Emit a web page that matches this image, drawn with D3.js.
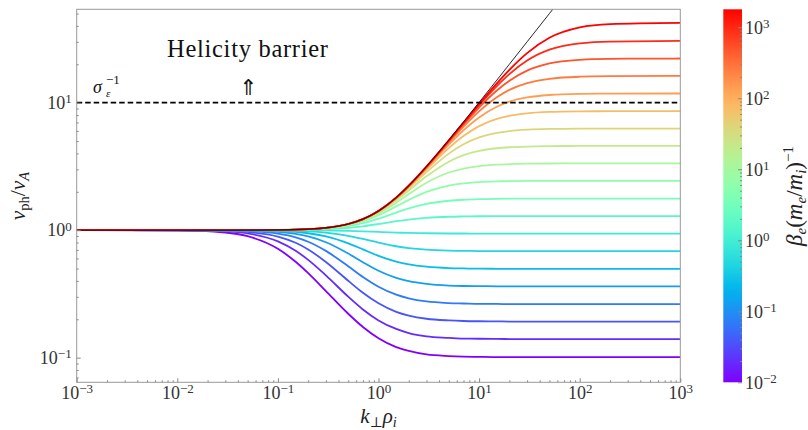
<!DOCTYPE html>
<html>
<head>
<meta charset="utf-8">
<script src="https://cdn.jsdelivr.net/npm/d3@7"></script>
<style>
  body { margin: 0; background: #fff; }
  text { font-family: "Liberation Serif", "DejaVu Serif", serif; }
  text.arrow { font-family: "DejaVu Sans", sans-serif; }
</style>
</head>
<body>
<svg width="808" height="430"></svg>
<script>
const kSamples = [0.001, 0.01, 0.03, 0.05, 0.1, 0.15, 0.2, 0.3, 0.5, 0.7, 1, 1.5, 2, 3, 5, 7, 10, 15, 20, 30, 50, 100, 200, 1000];

// beta_e (m_e/m_i)^-1 for each curve (colour)
const betaValues = [0.01, 0.0196, 0.0369, 0.0692, 0.131, 0.247, 0.468, 0.884, 1.66, 3.13, 5.95, 11.2, 21.0, 39.3, 73.6, 139, 262, 493, 930, 1789];
const betaRange = [0.01, 1789];

// v_ph / v_A for each curve at kSamples
const v00 = [1, 0.995, 0.959, 0.897, 0.714, 0.565, 0.460, 0.333, 0.221, 0.174, 0.142, 0.121, 0.113, 0.106, 0.103, 0.102, 0.1015, 0.101, 0.101, 0.101, 0.101, 0.101, 0.101, 0.101];
const v01 = [1, 0.998, 0.978, 0.943, 0.818, 0.690, 0.585, 0.442, 0.301, 0.239, 0.196, 0.168, 0.156, 0.147, 0.143, 0.141, 0.1407, 0.1403, 0.140, 0.140, 0.140, 0.140, 0.140, 0.140];
const v02 = [1, 0.999, 0.989, 0.969, 0.891, 0.797, 0.706, 0.563, 0.401, 0.323, 0.267, 0.229, 0.214, 0.202, 0.196, 0.194, 0.193, 0.1925, 0.192, 0.192, 0.192, 0.192, 0.192, 0.192];
const v03 = [1, 0.999, 0.994, 0.984, 0.939, 0.879, 0.812, 0.688, 0.521, 0.429, 0.360, 0.312, 0.292, 0.276, 0.268, 0.266, 0.264, 0.264, 0.263, 0.263, 0.263, 0.263, 0.263, 0.263];
const v04 = [1, 1, 0.997, 0.992, 0.969, 0.934, 0.893, 0.804, 0.656, 0.561, 0.481, 0.423, 0.398, 0.379, 0.368, 0.365, 0.364, 0.363, 0.362, 0.362, 0.362, 0.362, 0.362, 0.362];
const v05 = [1, 1, 0.999, 0.996, 0.985, 0.968, 0.946, 0.894, 0.788, 0.707, 0.629, 0.567, 0.539, 0.517, 0.504, 0.501, 0.499, 0.498, 0.4975, 0.497, 0.497, 0.497, 0.497, 0.497];
const v06 = [1, 1, 0.999, 0.999, 0.994, 0.988, 0.979, 0.956, 0.903, 0.853, 0.799, 0.748, 0.724, 0.703, 0.691, 0.688, 0.686, 0.685, 0.6845, 0.684, 0.684, 0.684, 0.684, 0.684];
const v07 = [1, 1, 1, 1, 0.999, 0.999, 0.998, 0.995, 0.987, 0.979, 0.969, 0.958, 0.951, 0.946, 0.942, 0.9415, 0.941, 0.940, 0.940, 0.940, 0.940, 0.940, 0.940, 0.940];
const v08 = [1, 1, 1, 1, 1.002, 1.004, 1.008, 1.017, 1.043, 1.073, 1.118, 1.176, 1.212, 1.249, 1.274, 1.281, 1.286, 1.288, 1.289, 1.29, 1.29, 1.29, 1.29, 1.29];
const v09 = [1, 1, 1, 1.001, 1.003, 1.008, 1.013, 1.029, 1.076, 1.135, 1.231, 1.375, 1.482, 1.606, 1.701, 1.733, 1.751, 1.761, 1.765, 1.767, 1.769, 1.77, 1.77, 1.77];
const v10 = [1, 1, 1, 1.001, 1.004, 1.009, 1.016, 1.036, 1.095, 1.173, 1.309, 1.536, 1.729, 1.995, 2.236, 2.327, 2.381, 2.413, 2.424, 2.432, 2.437, 2.439, 2.44, 2.44];
const v11 = [1, 1, 1, 1.001, 1.0045, 1.010, 1.018, 1.040, 1.106, 1.195, 1.355, 1.645, 1.919, 2.353, 2.833, 3.045, 3.184, 3.268, 3.299, 3.322, 3.334, 3.339, 3.34, 3.34];
const v12 = [1, 1, 1, 1.001, 1.005, 1.011, 1.019, 1.042, 1.111, 1.207, 1.382, 1.713, 2.049, 2.645, 3.444, 3.872, 4.185, 4.391, 4.470, 4.530, 4.562, 4.576, 4.579, 4.58];
const v13 = [1, 1, 1, 1.001, 1.005, 1.011, 1.019, 1.043, 1.115, 1.213, 1.397, 1.753, 2.130, 2.853, 3.986, 4.717, 5.338, 5.797, 5.989, 6.140, 6.222, 6.256, 6.265, 6.27];
const v14 = [1, 1, 1, 1.001, 1.005, 1.011, 1.020, 1.043, 1.116, 1.217, 1.405, 1.776, 2.178, 2.985, 4.405, 5.479, 6.544, 7.464, 7.894, 8.252, 8.457, 8.547, 8.571, 8.58];
const v15 = [1, 1, 1, 1.001, 1.005, 1.011, 1.020, 1.044, 1.117, 1.219, 1.409, 1.788, 2.205, 3.065, 4.695, 6.081, 7.666, 9.294, 10.18, 10.99, 11.49, 11.72, 11.78, 11.8];
const v16 = [1, 1, 1, 1.001, 1.005, 1.011, 1.020, 1.044, 1.118, 1.220, 1.412, 1.795, 2.219, 3.109, 4.872, 6.490, 8.550, 11.03, 12.60, 14.25, 15.40, 15.98, 16.13, 16.2];
const v17 = [1, 1, 1, 1.001, 1.005, 1.011, 1.020, 1.044, 1.118, 1.220, 1.413, 1.799, 2.227, 3.134, 4.975, 6.744, 9.164, 12.46, 14.88, 17.86, 20.30, 21.68, 22.07, 22.2];
const v18 = [1, 1, 1, 1.001, 1.005, 1.011, 1.020, 1.044, 1.118, 1.220, 1.414, 1.801, 2.231, 3.147, 5.032, 6.892, 9.549, 13.49, 16.75, 21.40, 26.04, 29.17, 30.15, 30.5];
const v19 = [1, 1, 1, 1.001, 1.005, 1.011, 1.020, 1.044, 1.118, 1.221, 1.414, 1.802, 2.234, 3.154, 5.064, 6.976, 9.780, 14.17, 18.10, 24.48, 32.30, 38.96, 41.38, 42.3];
const curves = [v00, v01, v02, v03, v04, v05, v06, v07, v08, v09, v10, v11, v12, v13, v14, v15, v16, v17, v18, v19];

// thin black envelope
const vEnvelope = [1, 1, 1, 1.001, 1.005, 1.011, 1.020, 1.044, 1.118, 1.221, 1.414, 1.803, 2.236, 3.162, 5.099, 7.071, 10.05, 15.03, 20.02, 30.02, 50.01, 100, 200, 1000];

// helicity barrier level
const sigmaInv = 10;

const xDomain = [1e-3, 1e3];
const yDomain = [0.0641, 54];
const xMajor = [1e-3, 1e-2, 1e-1, 1e0, 1e1, 1e2, 1e3];
const yMajor = [1e-1, 1e0, 1e1];
const cMajor = [1e-2, 1e-1, 1e0, 1e1, 1e2, 1e3];

const svg = d3.select("svg");
const plotL = 76.7, plotR = 680.3, plotT = 9.3, plotB = 382.3;

const x = d3.scaleLog().domain(xDomain).range([plotL, plotR]);
const y = d3.scaleLog().domain(yDomain).range([plotB, plotT]);
const cScale = d3.scaleLog().domain(betaRange).range([0, 1]);

// matplotlib "rainbow"
function rainbow(t) {
  const r = Math.min(1, Math.abs(2 * t - 0.5));
  const g = Math.sin(Math.PI * t);
  const b = Math.cos(Math.PI * t / 2);
  return d3.rgb(r * 255, g * 255, b * 255).formatHex();
}

function minorTicks(lo, hi) {
  const out = [];
  for (let e = Math.floor(Math.log10(lo)); e <= Math.ceil(Math.log10(hi)); e++) {
    for (let m = 2; m <= 9; m++) {
      const v = m * Math.pow(10, e);
      if (v > lo && v < hi) out.push(v);
    }
  }
  return out;
}

function powLabel(sel, supSize) {
  sel.each(function (d) {
    const e = Math.round(Math.log10(d));
    const t = d3.select(this).text(null);
    t.append("tspan").text("10");
    t.append("tspan").attr("dy", "-0.45em").attr("font-size", supSize)
      .text(e < 0 ? "\u2212" + (-e) : String(e));
  });
}

svg.append("defs").append("clipPath").attr("id", "plot")
  .append("rect").attr("x", plotL).attr("y", plotT)
  .attr("width", plotR - plotL).attr("height", plotB - plotT);

const line = d3.line()
  .x((d) => x(d[0]))
  .y((d) => y(d[1]))
  .curve(d3.curveMonotoneX);

const plot = svg.append("g").attr("clip-path", "url(#plot)");

plot.selectAll("path.curve")
  .data(curves)
  .enter()
  .append("path")
  .attr("class", "curve")
  .attr("fill", "none")
  .attr("stroke", (d, i) => rainbow(cScale(betaValues[i])))
  .attr("stroke-width", 1.8)
  .attr("d", (d) => line(kSamples.map((k, j) => [k, d[j]])));

plot.append("path")
  .attr("fill", "none")
  .attr("stroke", "#111")
  .attr("stroke-width", 0.9)
  .attr("d", line(kSamples.map((k, j) => [k, vEnvelope[j]])));

plot.append("line")
  .attr("x1", plotL).attr("x2", plotR)
  .attr("y1", y(sigmaInv)).attr("y2", y(sigmaInv))
  .attr("stroke", "#000")
  .attr("stroke-width", 1.8)
  .attr("stroke-dasharray", "5.5,3");

// frame
svg.append("rect")
  .attr("x", plotL).attr("y", plotT)
  .attr("width", plotR - plotL).attr("height", plotB - plotT)
  .attr("fill", "none").attr("stroke", "#999").attr("stroke-width", 1);

function styleAxis(g) {
  g.select(".domain").remove();
  g.selectAll(".tick line").attr("stroke", "#888");
  g.attr("font-size", 18);
  g.selectAll(".tick text").attr("fill", "#333");
}

// x axis
svg.append("g").attr("transform", `translate(0,${plotB})`)
  .call(d3.axisBottom(x).tickValues(minorTicks(xDomain[0], xDomain[1])).tickSize(-2).tickFormat(""))
  .call(styleAxis);
svg.append("g").attr("transform", `translate(0,${plotB})`)
  .call(d3.axisBottom(x).tickValues(xMajor).tickSize(-4).tickPadding(4))
  .call(styleAxis)
  .call((g) => powLabel(g.selectAll(".tick text"), 13));

// y axis
svg.append("g").attr("transform", `translate(${plotL},0)`)
  .call(d3.axisLeft(y).tickValues(minorTicks(yDomain[0], yDomain[1])).tickSize(-2).tickFormat(""))
  .call(styleAxis);
svg.append("g").attr("transform", `translate(${plotL},0)`)
  .call(d3.axisLeft(y).tickValues(yMajor).tickSize(-4).tickPadding(5))
  .call(styleAxis)
  .call((g) => powLabel(g.selectAll(".tick text"), 13));

// colour bar
const cbX = 723.3, cbW = 18.7;
const grad = svg.select("defs").append("linearGradient").attr("id", "cb")
  .attr("x1", 0).attr("y1", 1).attr("x2", 0).attr("y2", 0);
grad.selectAll("stop").data(d3.range(0, 1.0001, 0.02)).enter().append("stop")
  .attr("offset", (d) => d).attr("stop-color", (d) => rainbow(d));
svg.append("rect").attr("x", cbX).attr("y", plotT)
  .attr("width", cbW).attr("height", plotB - plotT).attr("fill", "url(#cb)");

const cAxisScale = d3.scaleLog().domain(betaRange).range([plotB, plotT]);
svg.append("g").attr("transform", `translate(${cbX + cbW},0)`)
  .call(d3.axisRight(cAxisScale).tickValues(minorTicks(betaRange[0], betaRange[1])).tickSize(-2).tickFormat(""))
  .call(styleAxis);
svg.append("g").attr("transform", `translate(${cbX + cbW},0)`)
  .call(d3.axisRight(cAxisScale).tickValues(cMajor).tickSize(-4).tickPadding(3))
  .call(styleAxis)
  .call((g) => powLabel(g.selectAll(".tick text"), 13));

// annotations
svg.append("text").attr("x", 247.5).attr("y", 57)
  .attr("text-anchor", "middle").attr("font-size", 24.5).attr("fill", "#111")
  .attr("textLength", 161).attr("lengthAdjust", "spacing")
  .text("Helicity barrier");
svg.append("text").attr("class", "arrow").attr("x", 248.5).attr("y", 95)
  .attr("text-anchor", "middle").attr("font-size", 22).attr("fill", "#111")
  .text("\u21D1");

const sig = svg.append("text").attr("x", 93).attr("y", 93.3).attr("font-size", 18).attr("fill", "#111");
sig.append("tspan").attr("font-style", "italic").text("\u03C3");
sig.append("tspan").attr("x", 106).attr("dy", 4).attr("font-size", 11).attr("font-style", "italic").text("\u03B5");
sig.append("tspan").attr("x", 106).attr("dy", -13).attr("font-size", 13).text("\u22121");

// axis titles
const xl = svg.append("text").attr("x", (plotL + plotR) / 2).attr("y", 423)
  .attr("text-anchor", "middle").attr("font-size", 21).attr("fill", "#222");
xl.append("tspan").attr("font-style", "italic").text("k");
xl.append("tspan").attr("font-size", 14).attr("dy", 4).text("\u22A5");
xl.append("tspan").attr("font-style", "italic").attr("dy", -4).text("\u03C1");
xl.append("tspan").attr("font-size", 14).attr("font-style", "italic").attr("dy", 4).text("i");

const yl = svg.append("text").attr("transform", "translate(25,196) rotate(-90)")
  .attr("text-anchor", "middle").attr("font-size", 21.5).attr("fill", "#222");
yl.append("tspan").attr("font-style", "italic").text("v");
yl.append("tspan").attr("font-size", 14.5).attr("dy", 4).text("ph");
yl.append("tspan").attr("dy", -4).text("/");
yl.append("tspan").attr("font-style", "italic").text("v");
yl.append("tspan").attr("font-size", 14.5).attr("font-style", "italic").attr("dy", 4).text("A");

const cl = svg.append("text").attr("transform", "translate(802,196) rotate(-90)")
  .attr("text-anchor", "middle").attr("font-size", 23).attr("fill", "#222");
cl.append("tspan").attr("font-style", "italic").text("\u03B2");
cl.append("tspan").attr("font-size", 15).attr("font-style", "italic").attr("dy", 4).text("e");
cl.append("tspan").attr("dy", -4).text("(");
cl.append("tspan").attr("font-style", "italic").text("m");
cl.append("tspan").attr("font-size", 15).attr("font-style", "italic").attr("dy", 4).text("e");
cl.append("tspan").attr("dy", -4).text("/");
cl.append("tspan").attr("font-style", "italic").text("m");
cl.append("tspan").attr("font-size", 15).attr("font-style", "italic").attr("dy", 4).text("i");
cl.append("tspan").attr("dy", -4).text(")");
cl.append("tspan").attr("font-size", 15).attr("dy", -9).text("\u22121");
</script>
</body>
</html>
